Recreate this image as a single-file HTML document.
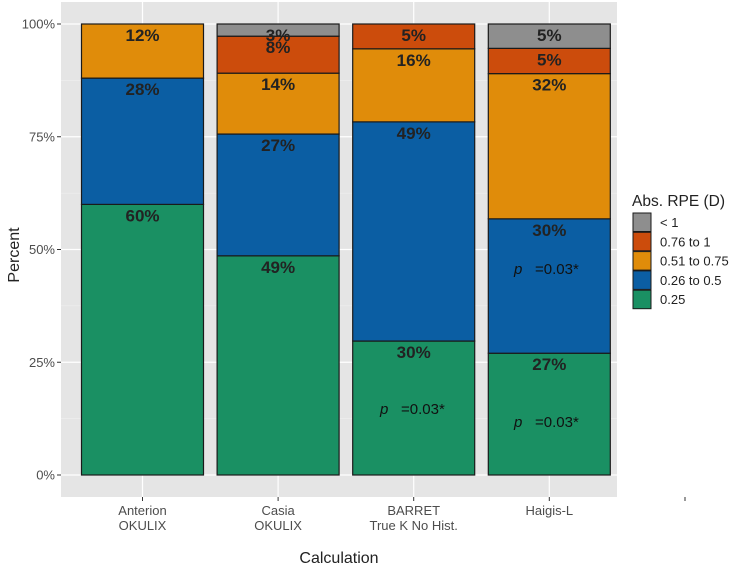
<!DOCTYPE html>
<html><head><meta charset="utf-8"><style>
body{margin:0;background:#fff;font-family:"Liberation Sans",sans-serif}
svg text{font-family:"Liberation Sans",sans-serif}
</style></head><body>
<svg id="chart" width="735" height="566" xmlns="http://www.w3.org/2000/svg">
<rect x="61" y="2" width="556" height="495" fill="#e5e5e5"/>
<g id="grid"></g><g id="bars"></g><g id="labels"></g><g id="axes"></g>
<text x="19" y="255" font-size="16" fill="#222" text-anchor="middle" transform="rotate(-90 19 255)">Percent</text>
<text x="339" y="563" font-size="16" fill="#222" text-anchor="middle">Calculation</text>
<line x1="685" y1="497" x2="685" y2="501" stroke="#333"/>
<g id="legend">
<text x="632" y="206" font-size="15.5" fill="#222">Abs. RPE (D)</text>
</g>
<g>
<text x="380" y="414" font-size="15" fill="#111"><tspan font-style="italic">p</tspan><tspan x="401">=0.03*</tspan></text>
<text x="514" y="274" font-size="15" fill="#111"><tspan font-style="italic">p</tspan><tspan x="535">=0.03*</tspan></text>
<text x="514" y="427" font-size="15" fill="#111"><tspan font-style="italic">p</tspan><tspan x="535">=0.03*</tspan></text>
</g>
</svg>
<script>
const categories = ["Anterion|OKULIX","Casia|OKULIX","BARRET|True K No Hist.","Haigis-L"];
const seriesNames = ["0.25","0.26 to 0.5","0.51 to 0.75","0.76 to 1","< 1"];
const s025 = [60, 48.6, 29.7, 27];
const s026 = [28, 27, 48.6, 29.8];
const s051 = [12, 13.5, 16.2, 32.2];
const s076 = [0, 8.2, 5.5, 5.6];
const s1 = [0, 2.7, 0, 5.4];
const labels025 = ["60%","49%","30%","27%"];
const labels026 = ["28%","27%","49%","30%"];
const labels051 = ["12%","14%","16%","32%"];
const labels076 = ["","8%","5%","5%"];
const labels1 = ["","3%","","5%"];
const yTicks = [0,25,50,75,100];

const colors = ["#1a9063","#0b5ea3","#e08c0a","#cc4c0c","#8e8e8e"];
const series = [s025,s026,s051,s076,s1];
const labs = [labels025,labels026,labels051,labels076,labels1];
const NS="http://www.w3.org/2000/svg";
const y = v => 475 - v/100*451;
const xc = i => 142.5 + i*135.6;
const bw = 122;
function mk(tag, attrs, parent){const e=document.createElementNS(NS,tag);for(const k in attrs)e.setAttribute(k,attrs[k]);parent.appendChild(e);return e;}
const grid=document.getElementById('grid'), bars=document.getElementById('bars'), lab=document.getElementById('labels'), axes=document.getElementById('axes');
for(let t=0;t<yTicks.length;t++){
  const v=yTicks[t];
  const g=mk('line',{x1:61,x2:617,y1:y(v),y2:y(v),stroke:'#fff','stroke-width':1.2},grid);
  
  
  if(t<yTicks.length-1){const m=mk('line',{x1:61,x2:617,y1:y(v+12.5),y2:y(v+12.5),stroke:'#f2f2f2','stroke-width':0.6},grid);
  
  }
  const tk=mk('line',{x1:57,x2:61,y1:y(v),y2:y(v),stroke:'#333'},axes);
  
  
  const tl=mk('text',{x:55,y:y(v)+4.5,'font-size':13,fill:'#4d4d4d','text-anchor':'end'},axes);
  tl.textContent=v+'%';
  
  
}
categories.forEach((c,i)=>{
  const g=mk('line',{x1:xc(i),x2:xc(i),y1:2,y2:497,stroke:'#fff','stroke-width':1.2},grid);
  
  
  const tk=mk('line',{x1:xc(i),x2:xc(i),y1:497,y2:501,stroke:'#333'},axes);
  
  
  c.split('|').forEach((ln,j)=>{
    const t=mk('text',{x:xc(i),y:515+j*15,'font-size':13,fill:'#4d4d4d','text-anchor':'middle'},axes);
    t.textContent=ln;
    
    
  });
  let cum=0;
  series.forEach((s,k)=>{
    const v=s[i]; if(v<=0) return;
    const r=mk('rect',{x:xc(i)-bw/2,y:y(cum+v),width:bw,height:y(cum)-y(cum+v),fill:colors[k],stroke:'#1a1a1a','stroke-width':1.2},bars);
    
    
    if(labs[k][i]){
      const t=mk('text',{x:xc(i),y:y(cum+v)+17,'font-size':17,'font-weight':'bold',fill:'#222','text-anchor':'middle'},lab);
      t.textContent=labs[k][i];
      
      
    }
    cum+=v;
  });
});
const leg=document.getElementById('legend');
for(let k=4;k>=0;k--){
  const row=4-k, yy=213+row*19.3;
  const r=mk('rect',{x:633,y:yy,width:18,height:18.5,fill:colors[k],stroke:'#1a1a1a','stroke-width':1},leg);
  
  
  const t=mk('text',{x:660,y:yy+14,'font-size':13,fill:'#222'},leg);
  t.textContent=seriesNames[k];
  
  
}
</script>
</body></html>
